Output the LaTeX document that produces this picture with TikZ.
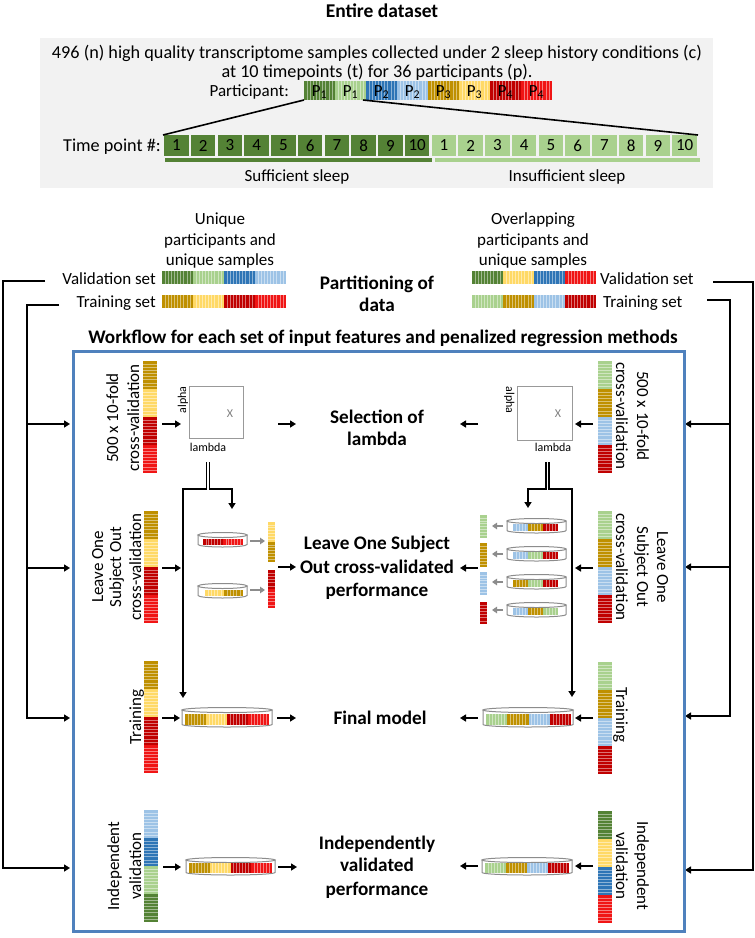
\documentclass[tikz,border=0pt]{standalone}
\usepackage{fontspec}
\setmainfont{Carlito}
\usetikzlibrary{arrows.meta}
\definecolor{dg}{HTML}{548235}
\definecolor{lg}{HTML}{A9D18E}
\definecolor{bl}{HTML}{2E75B6}
\definecolor{lb}{HTML}{9DC3E6}
\definecolor{dgold}{HTML}{BF9000}
\definecolor{yel}{HTML}{FFD966}
\definecolor{dred}{HTML}{C00000}
\definecolor{red}{HTML}{F01515}
\definecolor{bggray}{HTML}{F2F2F2}
\definecolor{frameblue}{HTML}{4F81BD}
\definecolor{cylgray}{HTML}{8C8C8C}
\newcommand\fsz[1]{\fontsize{#1}{#1}\selectfont}
\tikzset{
  stripe/.style={white,opacity=0.45,line width=0.45pt},
  arr/.style={line width=1.6pt,line join=miter,-{Triangle[length=6pt,width=7pt]}},
  ln/.style={line width=1.6pt},
  garr/.style={line width=1.6pt,cylgray,-{Triangle[length=5pt,width=6.5pt]}},
  cylst/.style={draw=cylgray,fill=white,line width=1pt},
  T/.style={inner sep=0pt,anchor=base,font=\fsz{17}},
  TL/.style={inner sep=0pt,anchor=base,font=\fsz{18.2}},
  TB/.style={inner sep=0pt,anchor=base,font=\bfseries\fsz{19.2}},
  TS/.style={inner sep=0pt,anchor=base,font=\fsz{12}},
  tbox/.style={inner sep=0pt,minimum width=24.5pt,minimum height=21pt,font=\fsz{17}},
}
\newcommand\mkhbar[5]{%
  \foreach \cc [count=\ii from 0] in {#5}{%
    \pgfmathsetmacro\xa{#1+\ii*#4}%
    \pgfmathtruncatemacro\nn{#4/3.2}%
    \fill[\cc] (\xa,#2) rectangle ({\xa+#4},#3);
    \foreach \kk in {1,...,\nn}{\draw[stripe] ({\xa+\kk*#4/(\nn+1)},#2) -- ({\xa+\kk*#4/(\nn+1)},#3);}
  }%
}
\newcommand\mkvbar[5]{%
  \foreach \cc [count=\ii from 0] in {#5}{%
    \pgfmathsetmacro\ya{#3+\ii*#4}%
    \pgfmathtruncatemacro\nn{#4/3.2}%
    \fill[\cc] (#1,\ya) rectangle (#2,{\ya+#4});
    \foreach \kk in {1,...,\nn}{\draw[stripe] (#1,{\ya+\kk*#4/(\nn+1)}) -- (#2,{\ya+\kk*#4/(\nn+1)});}
  }%
}
\newcommand\mkcyl[4]{%
  \pgfmathsetmacro\rx{(#2-#1)/2}%
  \pgfmathsetmacro\cx{(#1+#2)/2}%
  \filldraw[cylst] (#1,#3) -- (#1,#4) arc[start angle=180,end angle=360,x radius=\rx pt,y radius=2.5pt] -- (#2,#3) -- cycle;
  \filldraw[cylst] (\cx,#3) ellipse[x radius=\rx pt,y radius=2.5pt];
}
\begin{document}
\begin{tikzpicture}[x=1pt,y=-1pt]
\useasboundingbox (0,0) rectangle (755,938);
\fill[white] (0,0) rectangle (755,938);

% ---------------- entire dataset
\node[TB,font=\bfseries\fsz{19.5}] (title) at (382,17) {Entire dataset};
\node[fill=bggray,inner sep=0pt,minimum width=673pt,minimum height=150pt,anchor=north west] (topbox) at (40,38) {};
\node[TL] (l1) at (377,58) {496 (n) high quality transcriptome samples collected under 2 sleep history conditions (c)};
\node[TL] (l2) at (377,77) {at 10 timepoints (t) for 36 participants (p).};
\node[T,anchor=base east] (plab) at (289,96) {Participant:};
\mkhbar{304}{81}{100}{31}{dg,lg,bl,lb,dgold,yel,dred,red}
\foreach \t [count=\i from 0] in {1,1,2,2,3,3,4,4}{
  \node[T] (p\i) at ({304+15.5+\i*31},96) {P\textsubscript{\t}};
}
\node[TL,anchor=base east] (tlab) at (161,151) {Time point \#:};
\foreach \i in {1,...,10}{
  \node[tbox,fill=dg] (td\i) at ({163+(\i-0.5)*26.75},145.5) {\i};
  \node[tbox,fill=lg] (tl\i) at ({163+(\i+9.5)*26.75},145.5) {\i};
}
\coordinate (z1) at (304,100); \coordinate (z2) at (163,135);
\coordinate (z3) at (363,100); \coordinate (z4) at (698,135);
\draw[ln] (z1) -- (z2);
\draw[ln] (z3) -- (z4);
\node[fill=dg,inner sep=0pt,minimum width=267pt,minimum height=4pt,anchor=north west] (ssbar) at (165,158) {};
\node[fill=lg,inner sep=0pt,minimum width=265pt,minimum height=4pt,anchor=north west] (isbar) at (435,158) {};
\node[T] (suff) at (297,181) {Sufficient sleep};
\node[T] (insuff) at (567,181) {Insufficient sleep};

% ---------------- partitioning
\node[T] (uh1) at (220,224) {Unique};
\node[T] (uh2) at (220,245) {participants and};
\node[T] (uh3) at (220,265) {unique samples};
\node[T] (oh1) at (533,224) {Overlapping};
\node[T] (oh2) at (533,245) {participants and};
\node[T] (oh3) at (533,265) {unique samples};
\node[T,anchor=base east] (lvs) at (156,284) {Validation set};
\node[T,anchor=base east] (lts) at (156,307) {Training set};
\node[T,anchor=base west] (rvs) at (600,284) {Validation set};
\node[T,anchor=base west] (rts) at (603,307) {Training set};
\mkhbar{162}{271}{284}{31}{dg,lg,bl,lb}
\mkhbar{162}{295}{308}{31}{dgold,yel,dred,red}
\mkhbar{472}{271}{284}{31}{dg,yel,bl,red}
\mkhbar{472}{295}{308}{31}{lg,dgold,lb,dred}
\node[TB] (part1) at (377,289) {Partitioning of};
\node[TB] (part2) at (377,311) {data};

% outer connectors
\coordinate (LV0) at (45,281); \coordinate (LV1) at (3,281); \coordinate (LV2) at (3,868); \coordinate (LVe) at (70,868);
\coordinate (LT0) at (59,305); \coordinate (LT1) at (27,305); \coordinate (LT2) at (27,718); \coordinate (LTe) at (70,718);
\coordinate (LB1) at (27,424); \coordinate (LB1e) at (70,424);
\coordinate (LB2) at (27,568); \coordinate (LB2e) at (70,568);
\draw[arr] (LV0) -- (LV1) -- (LV2) -- (LVe);
\draw[arr] (LT0) -- (LT1) -- (LT2) -- (LTe);
\draw[arr] (LB1) -- (LB1e);
\draw[arr] (LB2) -- (LB2e);
\coordinate (RV0) at (713,282); \coordinate (RV1) at (753,282); \coordinate (RV2) at (753,870); \coordinate (RVe) at (685,870);
\coordinate (RT0) at (707,300); \coordinate (RT1) at (730,300); \coordinate (RT2) at (730,716); \coordinate (RTe) at (685,716);
\coordinate (RB1) at (730,424); \coordinate (RB1e) at (685,424);
\coordinate (RB2) at (730,567); \coordinate (RB2e) at (685,567);
\draw[arr] (RV0) -- (RV1) -- (RV2) -- (RVe);
\draw[arr] (RT0) -- (RT1) -- (RT2) -- (RTe);
\draw[arr] (RB1) -- (RB1e);
\draw[arr] (RB2) -- (RB2e);

% ---------------- workflow frame
\node[TB] (wf) at (383,343) {Workflow for each set of input features and penalized regression methods};
\node[draw=frameblue,line width=3pt,inner sep=0pt,minimum width=611pt,minimum height=580pt,anchor=north west] (frame) at (72,350) {};

% ---------------- row 1: selection of lambda
\mkvbar{143}{157}{361}{28}{dgold,yel,dred,red}
\node[T,rotate=90] (cv1a) at (118,418) {500 x 10-fold};
\node[T,rotate=90] (cv1b) at (139,418) {cross-validation};
\node[draw=gray!80,line width=1.2pt,inner sep=0pt,minimum width=54pt,minimum height=52pt,anchor=north west] (mL) at (189,386) {};
\node[TS,rotate=90] (alL) at (186,400) {alpha};
\node[TS,text=gray] (xL) at (230,417) {X};
\node[TS] (laL) at (208,451) {lambda};
\coordinate (a1s) at (162,424); \coordinate (a1e) at (181,424);
\draw[arr] (a1s) -- (a1e);
\coordinate (a2s) at (278,424); \coordinate (a2e) at (296,424);
\draw[arr] (a2s) -- (a2e);
\node[TB] (sel1) at (377,423) {Selection of};
\node[TB] (sel2) at (377,445) {lambda};

\mkvbar{598}{612}{361}{28}{lg,dgold,lb,dred}
\node[T,rotate=-90] (cv1c) at (637,416) {500 x 10-fold};
\node[T,rotate=-90] (cv1d) at (616,416) {cross-validation};
\node[draw=gray!80,line width=1.2pt,inner sep=0pt,minimum width=55pt,minimum height=54pt,anchor=north west] (mR) at (517,386) {};
\node[TS,rotate=-90] (alR) at (506,400) {alpha};
\node[TS,text=gray] (xR) at (558,417) {X};
\node[TS] (laR) at (553,451) {lambda};
\coordinate (a3s) at (593,424); \coordinate (a3e) at (575,424);
\draw[arr] (a3s) -- (a3e);
\coordinate (a4s) at (478,424); \coordinate (a4e) at (460,424);
\draw[arr] (a4s) -- (a4e);

% double lines below the grids
\coordinate (dL1) at (206.5,462); \coordinate (dL2) at (206.5,489); \coordinate (dL3) at (183,489); \coordinate (dL4) at (183,698);
\coordinate (dL5) at (209.5,462); \coordinate (dL6) at (209.5,489); \coordinate (dL7) at (232,489); \coordinate (dL8) at (232,509);
\draw[arr] (dL1) -- (dL2) -- (dL3) -- (dL4);
\draw[arr] (dL5) -- (dL6) -- (dL7) -- (dL8);
\coordinate (dR1) at (546,462); \coordinate (dR2) at (546,489); \coordinate (dR3) at (528,489); \coordinate (dR4) at (528,508);
\coordinate (dR5) at (549,462); \coordinate (dR6) at (549,489); \coordinate (dR7) at (572,489); \coordinate (dR8) at (572,697);
\draw[arr] (dR1) -- (dR2) -- (dR3) -- (dR4);
\draw[arr] (dR5) -- (dR6) -- (dR7) -- (dR8);

% ---------------- row 2: LOSO
\mkvbar{144}{158}{511}{28}{dgold,yel,dred,red}
\node[T,rotate=90] (lo1) at (103,567) {Leave One};
\node[T,rotate=90] (lo2) at (121,567) {Subject Out};
\node[T,rotate=90] (lo3) at (141,567) {cross-validation};
\coordinate (b1s) at (162,568); \coordinate (b1e) at (181,568);
\draw[arr] (b1s) -- (b1e);
\mkcyl{198}{247}{535}{544.5}
\mkhbar{203}{538.5}{545}{20}{dred,red}
\mkcyl{198}{247}{586}{595.5}
\mkhbar{205}{589.5}{596}{19}{yel,dgold}
\coordinate (g1s) at (250,541); \coordinate (g1e) at (265,541);
\coordinate (g2s) at (250,590); \coordinate (g2e) at (265,590);
\draw[garr] (g1s) -- (g1e);
\draw[garr] (g2s) -- (g2e);
\mkvbar{268}{275}{522}{20}{yel,dgold}
\mkvbar{268}{275}{570}{19}{dred,red}
\coordinate (b2s) at (278,567); \coordinate (b2e) at (296,567);
\draw[arr] (b2s) -- (b2e);
\node[TB] (los1) at (377,549) {Leave One Subject};
\node[TB] (los2) at (377,573) {Out cross-validated};
\node[TB] (los3) at (377,596) {performance};

\coordinate (b3s) at (478,568); \coordinate (b3e) at (460,568);
\draw[arr] (b3s) -- (b3e);
\mkvbar{480}{487}{515}{23}{lg}
\mkvbar{480}{487}{543}{24}{dgold}
\mkvbar{480}{487}{572}{23}{lb}
\mkvbar{480}{487}{602}{22}{dred}
\foreach \yc/\nm in {526/1,554/2,582/3,610/4}{
  \coordinate (gr\nm s) at (503,\yc); \coordinate (gr\nm e) at (492,\yc);
  \draw[garr] (gr\nm s) -- (gr\nm e);
  \mkcyl{507}{566}{\yc-5}{\yc+4.5}
}
\mkhbar{513}{524}{531}{15}{lb,dgold,dred}
\mkhbar{513}{552}{559}{15}{lb,lg,dred}
\mkhbar{513}{580}{587}{15}{dgold,lg,dred}
\mkhbar{513}{608}{615}{15}{lb,dgold,lg}
\coordinate (b4s) at (593,568); \coordinate (b4e) at (575,568);
\draw[arr] (b4s) -- (b4e);
\mkvbar{598}{612}{511}{28}{lg,dgold,lb,dred}
\node[T,rotate=-90] (lo4) at (657,567) {Leave One};
\node[T,rotate=-90] (lo5) at (637,567) {Subject Out};
\node[T,rotate=-90] (lo6) at (616,567) {cross-validation};

% ---------------- row 3: final model
\mkvbar{144}{158}{661}{28}{dgold,yel,dred,red}
\node[T,rotate=90] (trL) at (141,717) {Training};
\coordinate (c1s) at (162,718); \coordinate (c1e) at (180,718);
\draw[arr] (c1s) -- (c1e);
\mkcyl{182}{272}{710}{724.5}
\mkhbar{185}{713.5}{725}{21}{dgold,yel,dred,red}
\coordinate (c2s) at (277,718); \coordinate (c2e) at (296,718);
\draw[arr] (c2s) -- (c2e);
\node[TB] (fm) at (380,724) {Final model};
\coordinate (c3s) at (478,718); \coordinate (c3e) at (460,718);
\draw[arr] (c3s) -- (c3e);
\mkcyl{483}{573}{710}{724.5}
\mkhbar{486}{713.5}{725}{21.25}{lg,dgold,lb,dred}
\coordinate (c4s) at (593,718); \coordinate (c4e) at (575,718);
\draw[arr] (c4s) -- (c4e);
\mkvbar{598}{612}{662}{28}{lg,dgold,lb,dred}
\node[T,rotate=-90] (trR) at (616,715) {Training};

% ---------------- row 4: independent validation
\mkvbar{144}{158}{810}{28}{lb,bl,lg,dg}
\node[T,rotate=90] (iv1) at (119,866) {Independent};
\node[T,rotate=90] (iv2) at (141,866) {validation};
\coordinate (e1s) at (163,867); \coordinate (e1e) at (181,867);
\draw[arr] (e1s) -- (e1e);
\mkcyl{186}{275}{860}{872.5}
\mkhbar{189}{862.5}{873}{20.75}{dgold,yel,dred,red}
\coordinate (e2s) at (278,867); \coordinate (e2e) at (297,867);
\draw[arr] (e2s) -- (e2e);
\node[TB] (ivp1) at (377,849) {Independently};
\node[TB] (ivp2) at (377,871) {validated};
\node[TB] (ivp3) at (377,895) {performance};
\coordinate (e3s) at (478,866); \coordinate (e3e) at (460,866);
\draw[arr] (e3s) -- (e3e);
\mkcyl{482}{572}{860}{872.5}
\mkhbar{485}{862.5}{873}{21}{lg,dgold,lb,dred}
\coordinate (e4s) at (593,866); \coordinate (e4e) at (575,866);
\draw[arr] (e4s) -- (e4e);
\mkvbar{598}{612}{811}{28}{dg,yel,bl,red}
\node[T,rotate=-90] (iv3) at (637,866) {Independent};
\node[T,rotate=-90] (iv4) at (616,866) {validation};
\end{tikzpicture}
\end{document}
